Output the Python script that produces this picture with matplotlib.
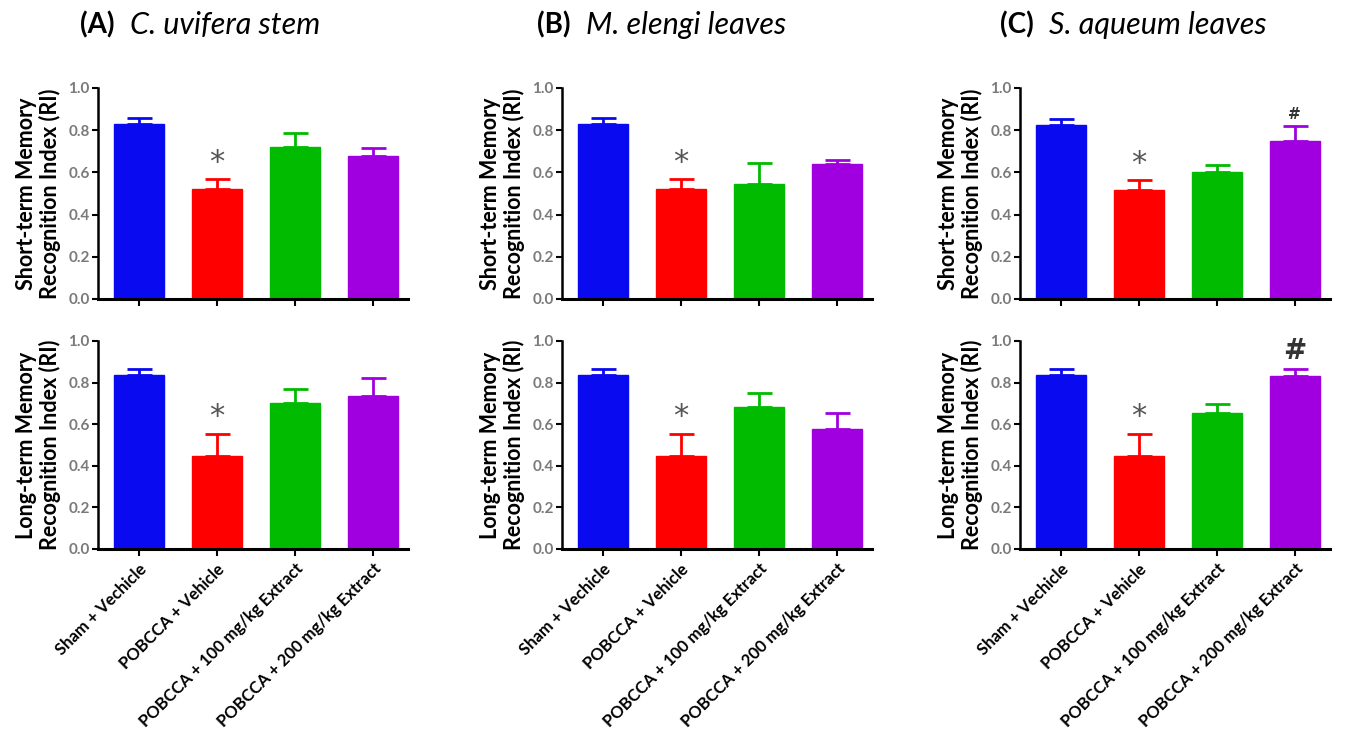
import matplotlib.pyplot as plt
import numpy as np

groups = ['Sham + Vechicle', 'POBCCA + Vehicle',
          'POBCCA + 100 mg/kg Extract', 'POBCCA + 200 mg/kg Extract']
colors = ['#0a0af0', '#ff0000', '#00bb00', '#a000e0']

titles = [('(A)', 'C. uvifera stem'), ('(B)', 'M. elengi leaves'), ('(C)', 'S. aqueum leaves')]

# short-term memory RI (mean, sem) per panel
short_mean = [[0.83, 0.52, 0.72, 0.68],
              [0.83, 0.52, 0.545, 0.64],
              [0.825, 0.515, 0.60, 0.75]]
short_err = [[0.03, 0.05, 0.065, 0.035],
             [0.03, 0.05, 0.10, 0.02],
             [0.03, 0.05, 0.035, 0.07]]
# long-term memory RI
long_mean = [[0.835, 0.445, 0.70, 0.735],
             [0.835, 0.445, 0.685, 0.575],
             [0.835, 0.445, 0.655, 0.83]]
long_err = [[0.03, 0.11, 0.07, 0.085],
            [0.03, 0.11, 0.065, 0.08],
            [0.03, 0.11, 0.04, 0.035]]

# significance marks: (panel, row, bar) -> symbol
marks = {(0, 0, 1): '*', (1, 0, 1): '*', (2, 0, 1): '*', (2, 0, 3): '#',
         (0, 1, 1): '*', (1, 1, 1): '*', (2, 1, 1): '*', (2, 1, 3): '#'}

W, H = 1346, 744
fig = plt.figure(figsize=(W / 100, H / 100), dpi=100)
plt.rcParams['font.family'] = ['Lato', 'DejaVu Sans']

lefts = [98, 562, 1020]
title_x = [80, 537, 1000]
rows = [(88, 299), (341, 549)]
ylabels = ['Short-term Memory\nRecognition Index (RI)', 'Long-term Memory\nRecognition Index (RI)']
x = np.arange(4)

for p in range(3):
    for r in range(2):
        top, bot = rows[r]
        ax = fig.add_axes([lefts[p] / W, 1 - bot / H, 310 / W, (bot - top) / H])
        means = short_mean[p] if r == 0 else long_mean[p]
        errs = short_err[p] if r == 0 else long_err[p]
        ax.bar(x, means, width=0.64, color=colors, edgecolor=colors, linewidth=1)
        for i in range(4):
            ax.errorbar(x[i], means[i], yerr=[[0], [errs[i]]], color=colors[i],
                        capsize=9, elinewidth=2, capthick=2, fmt='none')
            key = (p, r, i)
            if key in marks:
                sym = marks[key]
                if sym == '*':
                    ax.text(x[i], means[i] + errs[i] + 0.01, sym, ha='center', va='bottom',
                            fontsize=22, color='#555555', family='DejaVu Sans')
                else:
                    ax.text(x[i], means[i] + errs[i] + 0.02, sym, ha='center', va='bottom',
                            fontsize=11 if r == 0 else 20, color='#333333',
                            fontweight='bold', family='DejaVu Sans')
        ax.set_xlim(-0.52, 3.45)
        ax.set_ylim(0, 1.0)
        ax.set_yticks([0, 0.2, 0.4, 0.6, 0.8, 1.0])
        ax.set_yticklabels(['0.0', '0.2', '0.4', '0.6', '0.8', '1.0'])
        ax.spines['top'].set_visible(False)
        ax.spines['right'].set_visible(False)
        ax.spines['left'].set_linewidth(1.8)
        ax.spines['bottom'].set_linewidth(2.2)
        ax.tick_params(axis='y', labelsize=11, labelcolor='#7a7a7a', width=1.5, length=4, pad=2)
        for t in ax.get_yticklabels():
            t.set_fontweight('bold')
        ax.tick_params(axis='x', width=1.5, length=5)
        ax.set_xticks(x)
        if r == 1:
            ax.set_xticklabels(groups, rotation=45, ha='right', rotation_mode='anchor',
                               fontsize=12, fontweight='bold')
        else:
            ax.set_xticklabels([])
        ax.set_ylabel(ylabels[r], fontsize=15.5, fontweight='bold', labelpad=5, linespacing=1.1)
    # panel title
    t1 = fig.text(title_x[p] / W, 1 - 25 / H, titles[p][0], fontsize=20,
                  fontweight='bold', va='center')
    fig.canvas.draw()
    bb = t1.get_window_extent()
    fig.text((bb.x1 + 15) / W, 1 - 25 / H, titles[p][1], fontsize=22, style='italic', va='center')

fig.savefig('out.png', dpi=100)
